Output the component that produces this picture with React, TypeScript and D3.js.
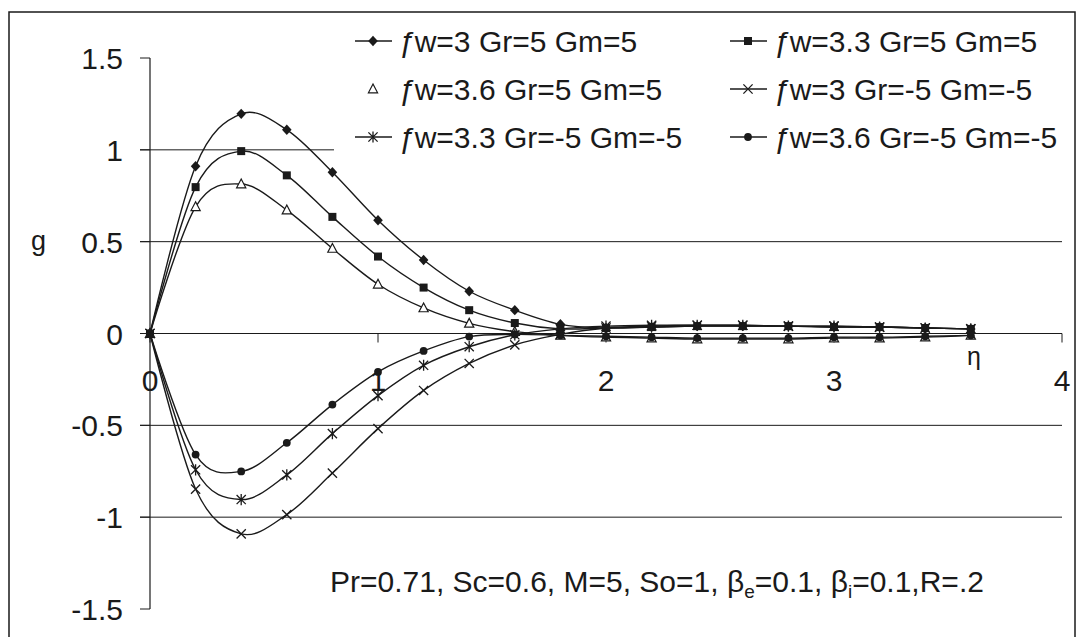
import React from "react";
import * as d3 from "d3";

// similarity variable η (abscissa of every profile)
const eta = [0, 0.2, 0.4, 0.6, 0.8, 1.0, 1.2, 1.4, 1.6, 1.8, 2.0, 2.2, 2.4, 2.6, 2.8, 3.0, 3.2, 3.4, 3.6];

// g profiles, one per parameter set
const gFw3Pos = [0, 0.911, 1.196, 1.109, 0.878, 0.617, 0.4, 0.23, 0.127, 0.05, 0.03, 0.035, 0.04, 0.04, 0.04, 0.035, 0.035, 0.03, 0.025];
const gFw33Pos = [0, 0.797, 0.993, 0.861, 0.635, 0.419, 0.25, 0.127, 0.057, 0.025, 0.03, 0.035, 0.04, 0.04, 0.04, 0.035, 0.035, 0.03, 0.025];
const gFw36Pos = [0, 0.69, 0.814, 0.672, 0.463, 0.268, 0.139, 0.055, 0.01, -0.01, -0.02, -0.025, -0.03, -0.03, -0.03, -0.025, -0.025, -0.02, -0.01];
const gFw3Neg = [0, -0.847, -1.091, -0.986, -0.76, -0.518, -0.31, -0.163, -0.062, -0.005, 0.03, 0.04, 0.045, 0.045, 0.04, 0.04, 0.035, 0.03, 0.025];
const gFw33Neg = [0, -0.742, -0.904, -0.77, -0.545, -0.338, -0.173, -0.072, -0.007, 0.025, 0.04, 0.045, 0.045, 0.045, 0.04, 0.04, 0.035, 0.03, 0.025];
const gFw36Neg = [0, -0.659, -0.751, -0.595, -0.387, -0.209, -0.095, -0.017, -0.005, -0.01, -0.015, -0.02, -0.025, -0.025, -0.025, -0.02, -0.02, -0.015, -0.01];

const fwValues = ["3", "3.3", "3.6", "3", "3.3", "3.6"];
const grValues = ["5", "5", "5", "-5", "-5", "-5"];
const markerKinds = ["diamond", "square", "triangle", "x", "star", "circle"];
const legendHasLine = [true, true, false, true, true, true];
const seriesValues = [gFw3Pos, gFw33Pos, gFw36Pos, gFw3Neg, gFw33Neg, gFw36Neg];

const xTicks = [0, 1, 2, 3, 4];
const yTicks = [-1.5, -1, -0.5, 0, 0.5, 1, 1.5];
const gridValues = [-1, -0.5, 0.5, 1];

const INK = "#1a1a1a";
const FONT = "'Liberation Sans', Arial, sans-serif";

function Marker({ kind, cx, cy }: { kind: string; cx: number; cy: number }) {
  const t = `translate(${cx},${cy})`;
  switch (kind) {
    case "diamond":
      return <path transform={t} d="M0,-5.2L4.8,0L0,5.2L-4.8,0Z" fill={INK} />;
    case "square":
      return <rect x={cx - 4} y={cy - 4} width={8} height={8} fill={INK} />;
    case "triangle":
      return <path transform={t} d="M0,-5L4.6,3.8L-4.6,3.8Z" fill="#fff" stroke={INK} strokeWidth={1.2} />;
    case "x":
      return <path transform={t} d="M-4.6,-4.6L4.6,4.6M-4.6,4.6L4.6,-4.6" stroke={INK} strokeWidth={1.3} fill="none" />;
    case "star":
      return <path transform={t} d="M-4.6,-4.6L4.6,4.6M-4.6,4.6L4.6,-4.6M0,-5.6V5.6" stroke={INK} strokeWidth={1.3} fill="none" />;
    default:
      return <circle cx={cx} cy={cy} r={3.9} fill={INK} />;
  }
}

export default function App() {
  const x = d3.scaleLinear().domain([0, 4]).range([150, 1062]);
  const y = d3.scaleLinear().domain([-1.5, 1.5]).range([609, 58]);

  const line = d3
    .line<number>()
    .x((_, i) => x(eta[i]))
    .y((d) => y(d))
    .curve(d3.curveCatmullRom.alpha(0));

  const legendCols = [355, 730];
  const legendRows = [41, 89, 137];

  return (
    <svg
      width={1081}
      height={637}
      style={{ position: "absolute", left: 0, top: 0, background: "#fff" }}
      fontFamily={FONT}
    >
      <rect x={0} y={0} width={1081} height={637} fill="#fff" />
      {/* chart frame */}
      <rect x={9} y={12} width={1066} height={660} fill="none" stroke={INK} strokeWidth={1.5} />

      {/* horizontal grid lines */}
      {gridValues.map((v) => (
        <line
          key={v}
          x1={x(0) - 10}
          x2={v === 1 ? 334 : x(4)}
          y1={y(v)}
          y2={y(v)}
          stroke={INK}
          strokeWidth={1}
        />
      ))}

      {/* y axis */}
      <line x1={x(0)} x2={x(0)} y1={y(1.5)} y2={y(-1.5)} stroke={INK} strokeWidth={1.2} />
      {yTicks.map((v) => (
        <g key={v}>
          <line x1={x(0) - 10} x2={x(0)} y1={y(v)} y2={y(v)} stroke={INK} strokeWidth={1} />
          <text x={123} y={y(v) + 11} textAnchor="end" fontSize={30} fill={INK}>
            {String(v)}
          </text>
        </g>
      ))}
      <text x={31} y={250} fontSize={27} fill={INK}>g</text>

      {/* x axis along g = 0 */}
      <line x1={x(0) - 10} x2={x(4)} y1={y(0)} y2={y(0)} stroke={INK} strokeWidth={1.2} />
      {xTicks.map((v) => (
        <g key={v}>
          <line x1={x(v)} x2={x(v)} y1={y(0)} y2={y(0) + 9} stroke={INK} strokeWidth={1} />
          <text x={x(v)} y={391} textAnchor="middle" fontSize={30} fill={INK}>
            {v}
          </text>
        </g>
      ))}
      <text x={974} y={365} textAnchor="middle" fontSize={25} fill={INK}>η</text>

      {/* profiles */}
      {seriesValues.map((vals, s) => (
        <path key={s} d={line(vals) ?? ""} fill="none" stroke={INK} strokeWidth={1.4} />
      ))}
      {seriesValues.map((vals, s) =>
        vals.map((v, i) => <Marker key={`${s}-${i}`} kind={markerKinds[s]} cx={x(eta[i])} cy={y(v)} />)
      )}

      {/* legend, two entries per row */}
      <rect x={335} y={18} width={727} height={140} fill="#fff" />
      {seriesValues.map((_, s) => {
        const lx = legendCols[s % 2];
        const ly = legendRows[Math.floor(s / 2)];
        return (
          <g key={s}>
            {legendHasLine[s] && (
              <line x1={lx} x2={lx + 37} y1={ly} y2={ly} stroke={INK} strokeWidth={1.4} />
            )}
            <Marker kind={markerKinds[s]} cx={lx + 18} cy={ly} />
            <text x={lx + 43} y={ly + 11} fontSize={30} fill={INK}>
              <tspan fontStyle="italic">ƒ</tspan>
              {`w=${fwValues[s]} Gr=${grValues[s]} Gm=${grValues[s]}`}
            </text>
          </g>
        );
      })}

      {/* parameter note */}
      <text x={330} y={592} fontSize={30} fill={INK}>
        Pr=0.71, Sc=0.6, M=5, So=1, β
        <tspan fontSize={19} dy={6}>e</tspan>
        <tspan dy={-6}>=0.1, β</tspan>
        <tspan fontSize={19} dy={6}>i</tspan>
        <tspan dy={-6}>=0.1,R=.2</tspan>
      </text>
    </svg>
  );
}
